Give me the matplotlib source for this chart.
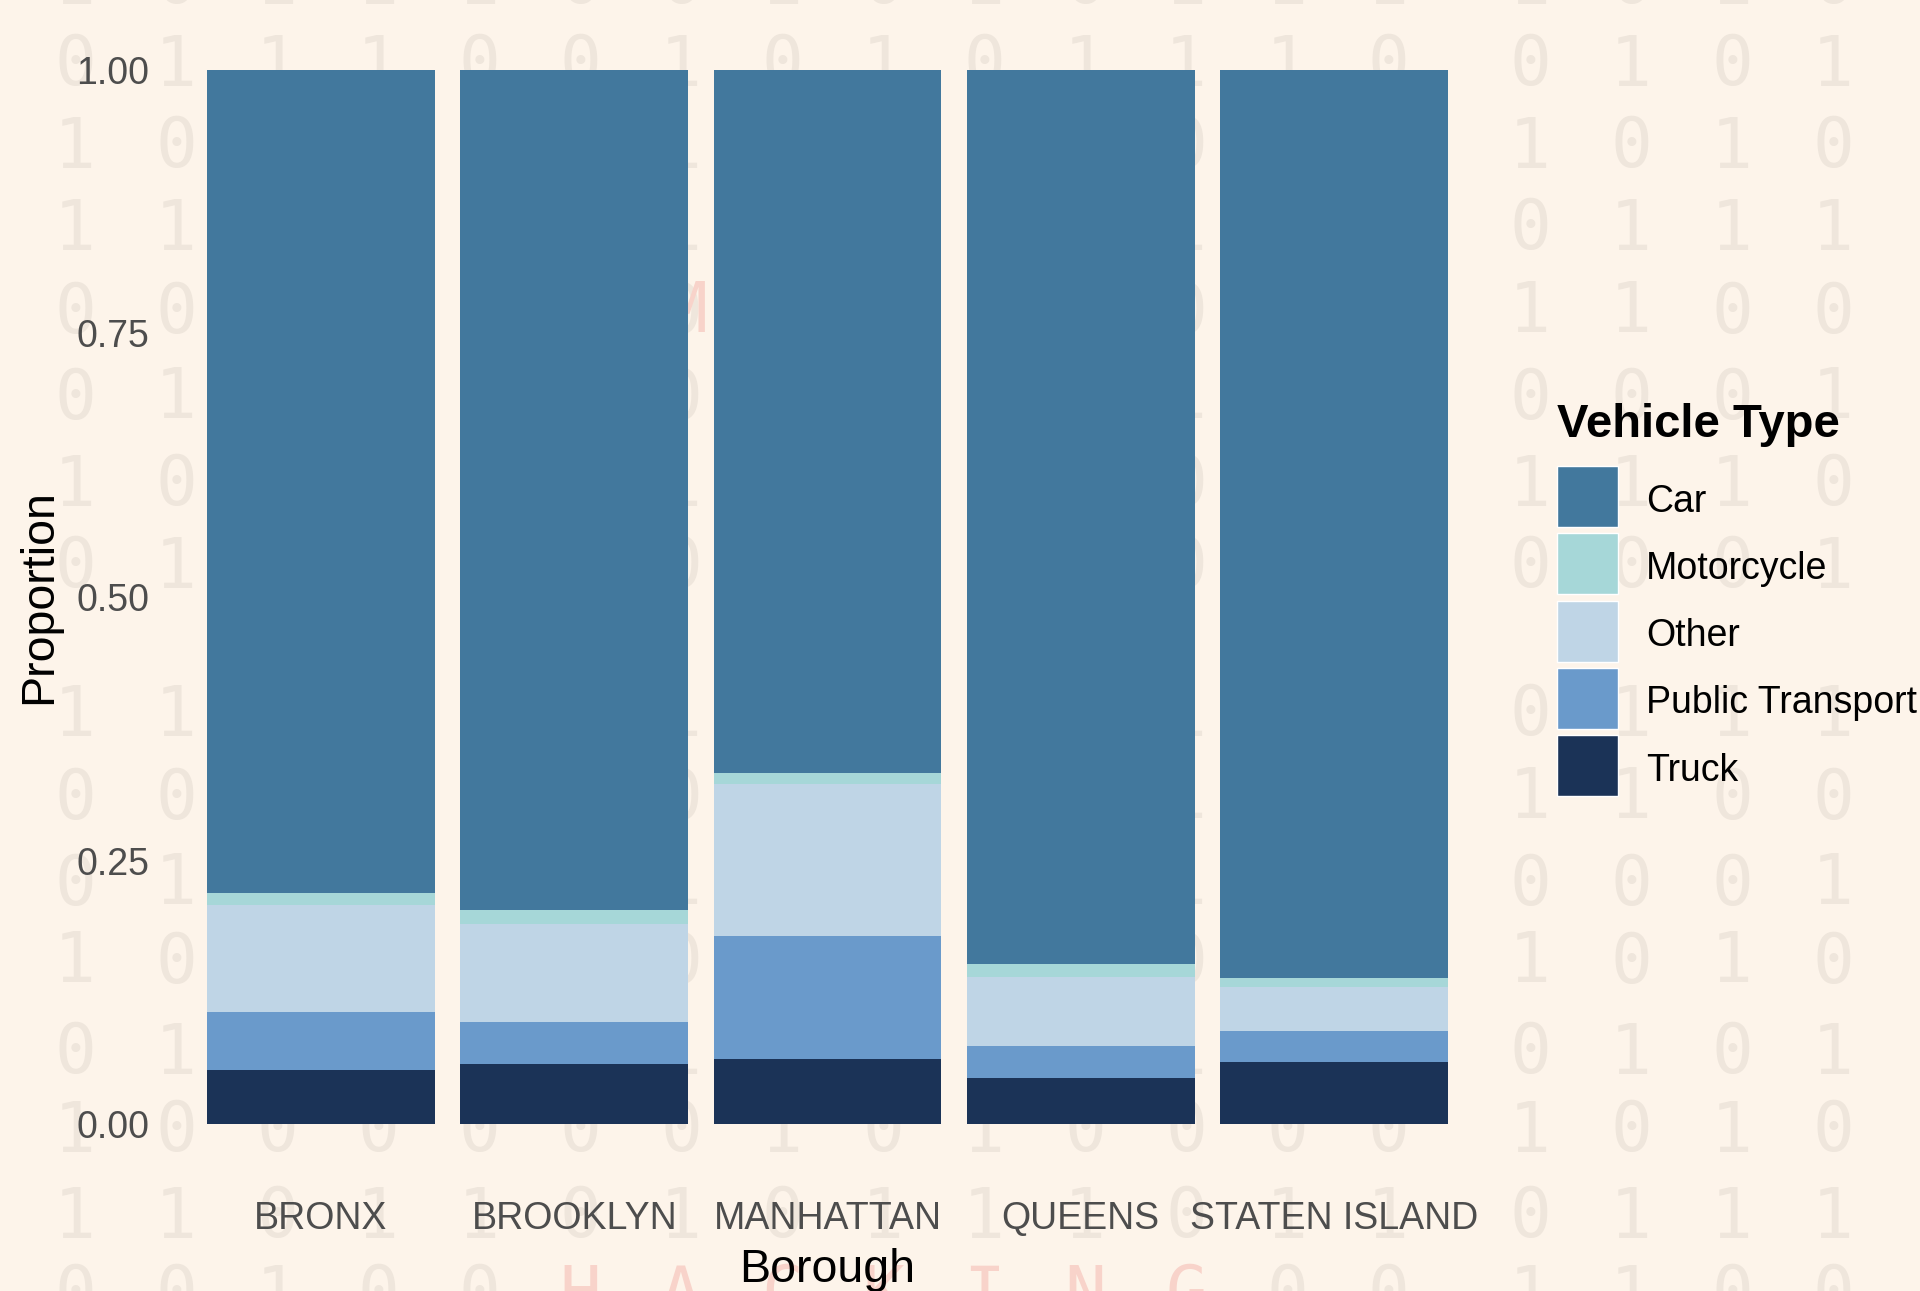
import numpy as np
import matplotlib
matplotlib.use('Agg')
import matplotlib.pyplot as plt
from matplotlib.patches import Rectangle

# data (bottom -> top in each bar: Truck, Public Transport, Other, Motorcycle, Car)
boroughs = ['BRONX', 'BROOKLYN', 'MANHATTAN', 'QUEENS', 'STATEN ISLAND']
vehicle_types = ['Car', 'Motorcycle', 'Other', 'Public Transport', 'Truck']

car = [0.781, 0.797, 0.667, 0.848, 0.861]
motorcycle = [0.011, 0.013, 0.010, 0.012, 0.009]
other = [0.102, 0.093, 0.144, 0.066, 0.042]
public_transport = [0.055, 0.040, 0.117, 0.030, 0.029]
truck = [0.051, 0.057, 0.062, 0.044, 0.059]

colors = {'Car': '#42789d', 'Motorcycle': '#a6d7d8', 'Other': '#bfd5e6',
          'Public Transport': '#6a9acb', 'Truck': '#1b3357'}

# decorative binary background
bg_rows_y = [-16, 66, 148, 230, 313, 399, 486, 568, 716, 799, 885, 963, 1054, 1132, 1218, 1296]
bg_left = ['10111001010111',
           '01110010101110',
           '10011010011010',
           '11010011010110',
           '00101100101001',
           '01100101101100',
           '10011010010011',
           '01101001101010',
           '11010110010101',
           '00101101100110',
           '01010010110101',
           '10100101001010',
           '01011010010100',
           '10000001010000',
           '11011010111011',
           '00100HACKING00']
bg_right = ['1010', '0101', '1010', '0111', '1100', '0001', '1110', '0001',
            '0111', '1100', '0001', '1010', '0101', '1010', '0111', '1100']

W, H = 1920, 1291
fig = plt.figure(figsize=(W / 100, H / 100), dpi=100)
fig.patch.set_facecolor('#fdf4ea')

for y, row in zip(bg_rows_y, bg_left):
    for k, ch in enumerate(row):
        col = '#f8d3ca' if ch.isalpha() else '#efe6dc'
        fig.text((75 + 101 * k) / W, 1 - y / H, ch, ha='center', va='center',
                 fontsize=50, family='DejaVu Sans Mono', color=col, zorder=-2)
for y, row in zip(bg_rows_y, bg_right):
    for k, ch in enumerate(row):
        fig.text((1530 + 101 * k) / W, 1 - y / H, ch, ha='center', va='center',
                 fontsize=50, family='DejaVu Sans Mono', color='#efe6dc', zorder=-2)
fig.text(686 / W, 1 - 313 / H, 'M', ha='center', va='center', fontsize=50,
         family='DejaVu Sans Mono', color='#f8d3ca', zorder=-2)

ax = fig.add_axes([169 / W, 1 - 1177 / H, (1486 - 169) / W, (1177 - 17) / H])
ax.patch.set_visible(False)

x = np.arange(len(boroughs))
series = {'Truck': truck, 'Public Transport': public_transport, 'Other': other,
          'Motorcycle': motorcycle, 'Car': car}
bottom = np.zeros(len(boroughs))
for name in ['Truck', 'Public Transport', 'Other', 'Motorcycle', 'Car']:
    vals = np.array(series[name])
    ax.bar(x, vals, width=0.9, bottom=bottom, color=colors[name], label=name, linewidth=0)
    bottom += vals

ax.set_xlim(-0.6, len(boroughs) - 0.4)
ax.set_ylim(-0.05, 1.05)
ax.set_xticks(x)
ax.set_xticklabels(boroughs)
ax.set_yticks([0, 0.25, 0.5, 0.75, 1.0])
ax.set_yticklabels(['0.00', '0.25', '0.50', '0.75', '1.00'])
for s in ax.spines.values():
    s.set_visible(False)
ax.tick_params(axis='both', length=0, labelsize=27, labelcolor='#4d4d4d')
ax.tick_params(axis='y', pad=14)
ax.tick_params(axis='x', pad=17)
for lab in ax.get_xticklabels() + ax.get_yticklabels():
    lab.set_family('Liberation Sans')

ax.set_xlabel('Borough', fontsize=33.5, family='Liberation Sans', labelpad=8)
ax.set_ylabel('Proportion', fontsize=33.5, family='Liberation Sans', labelpad=11)

# legend (ggplot style keys)
fig.text(1557 / W, 1 - 437 / H, 'Vehicle Type', fontsize=34, fontweight='bold',
         family='Liberation Sans', ha='left', va='baseline')
key_top, key_size, key_pitch = 466, 61, 67.3
for i, name in enumerate(vehicle_types):
    top = key_top + i * key_pitch
    fig.add_artist(Rectangle((1557 / W, 1 - (top + key_size) / H), key_size / W, key_size / H,
                             transform=fig.transFigure, facecolor=colors[name],
                             edgecolor='white', linewidth=1.0))
    fig.text(1646 / W, 1 - (top + key_size / 2 + 5) / H, name, fontsize=27,
             family='Liberation Sans', ha='left', va='center')

fig.savefig('out.png', dpi=100, facecolor=fig.get_facecolor())
